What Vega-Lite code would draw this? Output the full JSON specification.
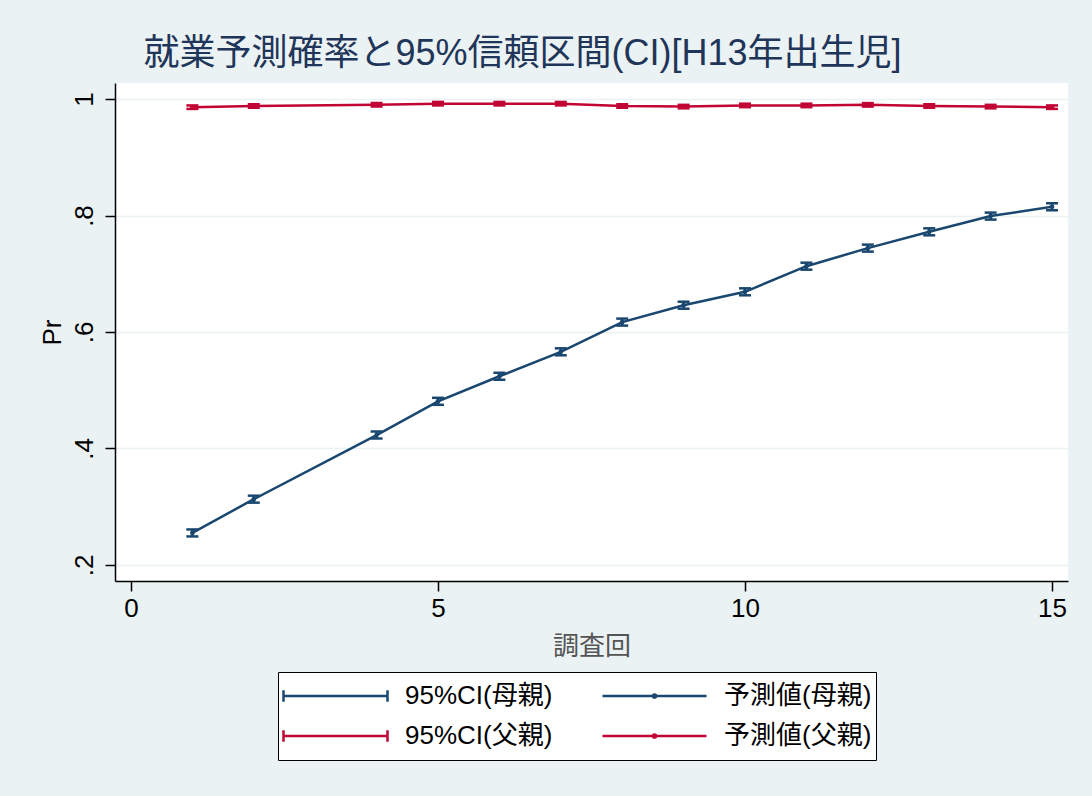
{
  "$schema": "https://vega.github.io/schema/vega-lite/v6.json",
  "autosize": {"type": "none"},
  "width": 953,
  "height": 498,
  "padding": {"left": 115, "top": 83, "right": 24, "bottom": 215},
  "background": "#EAF2F3",
  "config": {
    "view": {"fill": "white", "stroke": null},
    "font": "Liberation Sans, Arial, Noto Sans CJK JP",
    "axis": {"domainColor": "black", "domainWidth": 1.5, "tickColor": "black", "tickWidth": 1.5, "tickSize": 10, "labelColor": "black", "labelFontSize": 26, "titleFontSize": 26, "titleFontWeight": "normal", "titleColor": "black", "labelFont": "Liberation Sans, Arial", "gridColor": "#EAF2F3", "gridWidth": 1.5},
    "legend": {"title": null, "orient": "none", "legendX": 163, "legendY": 589, "columns": 2, "direction": "horizontal",
      "fillColor": "white", "strokeColor": "black", "padding": 4, "symbolSize": 10816, "clipHeight": 40, "symbolOpacity": 1, "symbolStrokeWidth": 2.5,
      "labelFontSize": 26, "labelColor": "black", "labelOffset": 16, "columnPadding": 48, "rowPadding": 0, "labelFont": "Liberation Sans, Arial, Noto Sans CJK JP", "labelLimit": 300}
  },
  "title": {"text": "就業予測確率と95%信頼区間(CI)[H13年出生児]", "fontSize": 36, "fontWeight": "normal", "color": "#1F3559", "anchor": "middle", "dx": -69, "offset": 10, "font": "Liberation Sans, Arial, Noto Sans CJK JP"},
  "data": {"values": [
    {"wave": 1, "grp": "母親", "pr": 0.255, "lo": 0.249, "hi": 0.261, "ci": "95%CI(母親)", "pt": "予測値(母親)"},
    {"wave": 2, "grp": "母親", "pr": 0.313, "lo": 0.307, "hi": 0.319, "ci": "95%CI(母親)", "pt": "予測値(母親)"},
    {"wave": 4, "grp": "母親", "pr": 0.423, "lo": 0.417, "hi": 0.429, "ci": "95%CI(母親)", "pt": "予測値(母親)"},
    {"wave": 5, "grp": "母親", "pr": 0.481, "lo": 0.475, "hi": 0.487, "ci": "95%CI(母親)", "pt": "予測値(母親)"},
    {"wave": 6, "grp": "母親", "pr": 0.524, "lo": 0.518, "hi": 0.530, "ci": "95%CI(母親)", "pt": "予測値(母親)"},
    {"wave": 7, "grp": "母親", "pr": 0.566, "lo": 0.560, "hi": 0.572, "ci": "95%CI(母親)", "pt": "予測値(母親)"},
    {"wave": 8, "grp": "母親", "pr": 0.617, "lo": 0.611, "hi": 0.623, "ci": "95%CI(母親)", "pt": "予測値(母親)"},
    {"wave": 9, "grp": "母親", "pr": 0.646, "lo": 0.640, "hi": 0.652, "ci": "95%CI(母親)", "pt": "予測値(母親)"},
    {"wave": 10, "grp": "母親", "pr": 0.669, "lo": 0.663, "hi": 0.675, "ci": "95%CI(母親)", "pt": "予測値(母親)"},
    {"wave": 11, "grp": "母親", "pr": 0.713, "lo": 0.707, "hi": 0.719, "ci": "95%CI(母親)", "pt": "予測値(母親)"},
    {"wave": 12, "grp": "母親", "pr": 0.744, "lo": 0.738, "hi": 0.750, "ci": "95%CI(母親)", "pt": "予測値(母親)"},
    {"wave": 13, "grp": "母親", "pr": 0.772, "lo": 0.766, "hi": 0.778, "ci": "95%CI(母親)", "pt": "予測値(母親)"},
    {"wave": 14, "grp": "母親", "pr": 0.799, "lo": 0.793, "hi": 0.805, "ci": "95%CI(母親)", "pt": "予測値(母親)"},
    {"wave": 15, "grp": "母親", "pr": 0.815, "lo": 0.809, "hi": 0.821, "ci": "95%CI(母親)", "pt": "予測値(母親)"},
    {"wave": 1, "grp": "父親", "pr": 0.986, "lo": 0.983, "hi": 0.989, "ci": "95%CI(父親)", "pt": "予測値(父親)"},
    {"wave": 2, "grp": "父親", "pr": 0.988, "lo": 0.985, "hi": 0.991, "ci": "95%CI(父親)", "pt": "予測値(父親)"},
    {"wave": 4, "grp": "父親", "pr": 0.990, "lo": 0.987, "hi": 0.993, "ci": "95%CI(父親)", "pt": "予測値(父親)"},
    {"wave": 5, "grp": "父親", "pr": 0.992, "lo": 0.989, "hi": 0.995, "ci": "95%CI(父親)", "pt": "予測値(父親)"},
    {"wave": 6, "grp": "父親", "pr": 0.992, "lo": 0.989, "hi": 0.995, "ci": "95%CI(父親)", "pt": "予測値(父親)"},
    {"wave": 7, "grp": "父親", "pr": 0.992, "lo": 0.989, "hi": 0.995, "ci": "95%CI(父親)", "pt": "予測値(父親)"},
    {"wave": 8, "grp": "父親", "pr": 0.988, "lo": 0.985, "hi": 0.991, "ci": "95%CI(父親)", "pt": "予測値(父親)"},
    {"wave": 9, "grp": "父親", "pr": 0.987, "lo": 0.984, "hi": 0.990, "ci": "95%CI(父親)", "pt": "予測値(父親)"},
    {"wave": 10, "grp": "父親", "pr": 0.989, "lo": 0.986, "hi": 0.992, "ci": "95%CI(父親)", "pt": "予測値(父親)"},
    {"wave": 11, "grp": "父親", "pr": 0.989, "lo": 0.986, "hi": 0.992, "ci": "95%CI(父親)", "pt": "予測値(父親)"},
    {"wave": 12, "grp": "父親", "pr": 0.990, "lo": 0.987, "hi": 0.993, "ci": "95%CI(父親)", "pt": "予測値(父親)"},
    {"wave": 13, "grp": "父親", "pr": 0.988, "lo": 0.985, "hi": 0.991, "ci": "95%CI(父親)", "pt": "予測値(父親)"},
    {"wave": 14, "grp": "父親", "pr": 0.987, "lo": 0.984, "hi": 0.990, "ci": "95%CI(父親)", "pt": "予測値(父親)"},
    {"wave": 15, "grp": "父親", "pr": 0.986, "lo": 0.983, "hi": 0.989, "ci": "95%CI(父親)", "pt": "予測値(父親)"}
  ]},
  "encoding": {
    "x": {"field": "wave", "type": "quantitative", "scale": {"domain": [-0.26, 15.26], "nice": false, "zero": false},
      "axis": {"values": [0, 5, 10, 15], "grid": false, "title": "調査回", "titleColor": "#555555", "titleFont": "Liberation Sans, Arial, Noto Sans CJK JP", "labelPadding": 4, "titlePadding": 12}}
  },
  "layer": [
    {
      "mark": {"type": "line", "strokeWidth": 2.5},
      "encoding": {
        "y": {"field": "pr", "type": "quantitative", "title": "Pr", "scale": {"domain": [0.1725, 1.0275], "nice": false, "zero": false},
          "axis": {"values": [0.2, 0.4, 0.6, 0.8, 1], "grid": true, "title": "Pr", "labelAngle": -90, "labelAlign": "center", "labelBaseline": "bottom", "labelPadding": 8, "titlePadding": 6,
            "labelExpr": "datum.value == 1 ? '1' : replace(format(datum.value, '.1f'), '0.', '.')"}},
        "detail": {"field": "grp"},
        "color": {"field": "pt", "type": "nominal",
          "scale": {"domain": ["95%CI(母親)", "予測値(母親)", "95%CI(父親)", "予測値(父親)"], "range": ["#1A476F", "#1A476F", "#C10534", "#C10534"]}}
      }
    },
    {
      "mark": {"type": "errorbar", "ticks": {"size": 12, "thickness": 2.5, "opacity": 1}, "rule": {"strokeWidth": 2.5, "opacity": 1}},
      "encoding": {
        "y": {"field": "lo", "type": "quantitative", "title": "Pr"},
        "y2": {"field": "hi"},
        "color": {"field": "ci", "type": "nominal"}
      }
    },
    {
      "mark": {"type": "point", "filled": true, "size": 22, "opacity": 1},
      "encoding": {
        "y": {"field": "pr", "type": "quantitative", "title": "Pr"},
        "color": {"field": "pt", "type": "nominal"}
      }
    },
    {
      "mark": {"type": "point", "filled": false, "opacity": 0, "strokeWidth": 2.5},
      "encoding": {
        "y": {"field": "pr", "type": "quantitative", "title": "Pr"},
        "color": {"field": "ci", "type": "nominal"},
        "shape": {"field": "ci", "type": "nominal",
          "scale": {"domain": ["95%CI(母親)", "予測値(母親)", "95%CI(父親)", "予測値(父親)"],
            "range": ["M-1,0L1,0M-1,-0.11L-1,0.11M1,-0.11L1,0.11", "M-1,0L1,0M0.03,0A0.03,0.03,0,1,1,-0.03,0A0.03,0.03,0,1,1,0.03,0Z", "M-1,0L1,0M-1,-0.11L-1,0.11M1,-0.11L1,0.11", "M-1,0L1,0M0.03,0A0.03,0.03,0,1,1,-0.03,0A0.03,0.03,0,1,1,0.03,0Z"]}}
      }
    },
    {
      "mark": {"type": "point", "filled": false, "opacity": 0},
      "encoding": {
        "y": {"field": "pr", "type": "quantitative", "title": "Pr"},
        "color": {"field": "pt", "type": "nominal"},
        "shape": {"field": "pt", "type": "nominal"}
      }
    }
  ]
}
